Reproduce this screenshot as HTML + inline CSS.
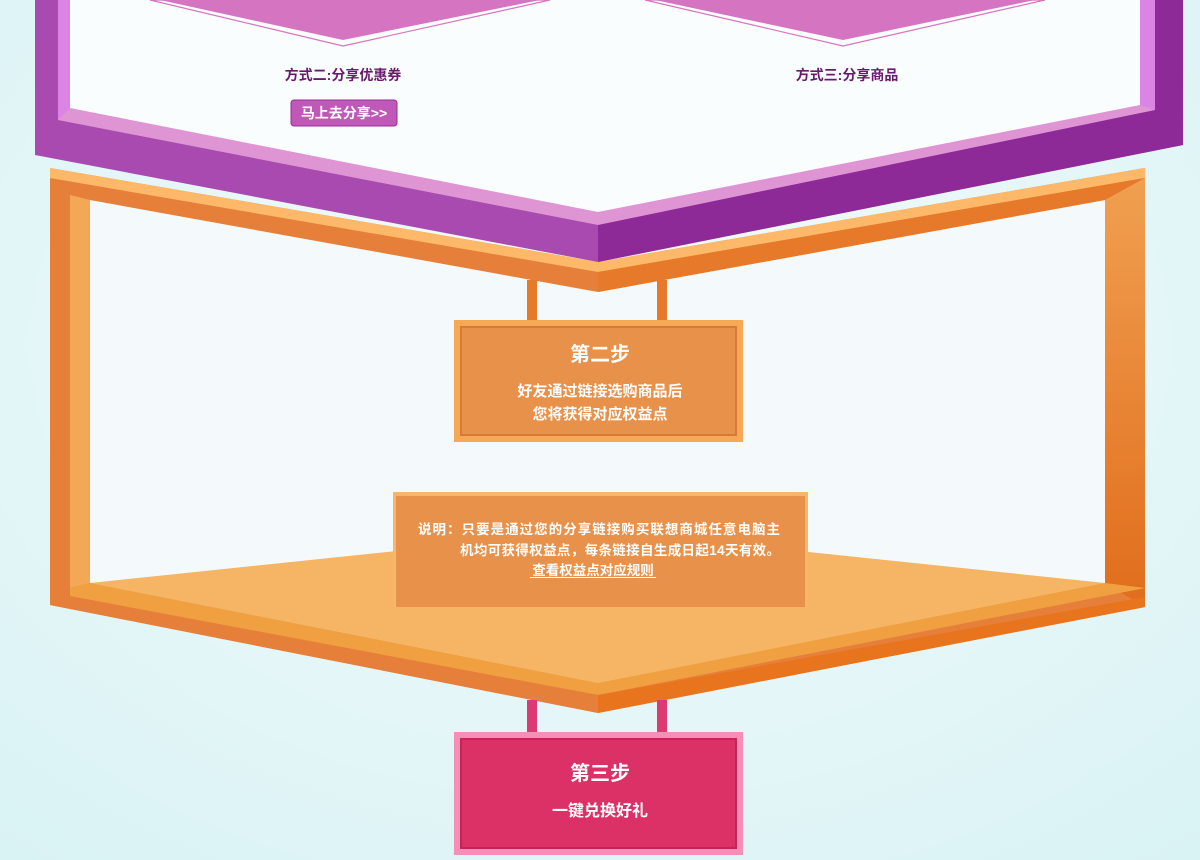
<!DOCTYPE html>
<html><head><meta charset="utf-8">
<style>
html,body{margin:0;padding:0;width:1200px;height:860px;overflow:hidden;background:#e0f5f7;}
svg text{font-family:"Liberation Sans","Noto Sans CJK SC",sans-serif;}
</style></head>
<body>
<svg width="1200" height="860" viewBox="0 0 1200 860">
<defs>
<radialGradient id="bg" cx="0.5" cy="0.4" r="0.8">
<stop offset="0" stop-color="#f4fbfc"/><stop offset="1" stop-color="#d8f2f4"/>
</radialGradient>
<linearGradient id="rside" x1="0" y1="0" x2="0" y2="1">
<stop offset="0" stop-color="#f0a050"/><stop offset="1" stop-color="#e06d1c"/>
</linearGradient>
</defs>
<rect width="1200" height="860" fill="url(#bg)"/>

<g>
<polygon points="50,168 598,262 1145,168 1145,607 598,713 50,605" fill="#e67f3a"/>
<polygon points="90,200 598,292 1105,200 1105,583 598,683 90,583" fill="#f4fafc"/>
<polygon points="50,168 598,262 598,272 50,178" fill="#fdb86a"/>
<polygon points="598,262 1145,168 1145,178 598,272" fill="#fdb86a"/>
<polygon points="598,272 1145,178 1145,200 1105,200 598,292" fill="#e67a2a"/>
<polygon points="1105,200 1145,178 1145,607 1105,583" fill="url(#rside)"/>
<polygon points="70,195 90,200 90,583 70,588" fill="#f2a855"/>
<polygon points="90,583 598,530 1105,583 598,683" fill="#f5b565"/>
<polygon points="70,588 90,583 598,683 598,695 70,596" fill="#f0a040"/>
<polygon points="598,683 1105,583 1145,588 598,695" fill="#f0a040"/>
<polygon points="598,695 1145,597 1145,607 598,713" fill="#e8751e"/>
<polygon points="50,597 598,695 598,713 50,605" fill="#e57f3a"/>
</g>

<g>
<polygon points="35,0 1183,0 1183,145 598,262 35,155" fill="#a84ab0"/>
<polygon points="1155,0 1183,0 1183,145 598,262 598,212 1155,110" fill="#8e2a98"/>
<polygon points="58,0 1155,0 1155,110 598,225 58,120" fill="#df94d4"/>
<polygon points="58,0 70,0 70,108 58,120" fill="#dc84e6"/>
<polygon points="1140,0 1155,0 1155,110 1140,105" fill="#dc84e6"/>
<polygon points="70,0 1140,0 1140,105 598,212 70,108" fill="#fafdfe"/>
<polygon points="150,0 550,0 343,46" fill="none" stroke="#d873c0" stroke-width="1.2"/>
<polygon points="160,0 540,0 343,40" fill="#d574c0"/>
<polygon points="645,0 1045,0 843,46" fill="none" stroke="#d873c0" stroke-width="1.2"/>
<polygon points="655,0 1035,0 843,40" fill="#d574c0"/>
</g>
<text x="343" y="80" text-anchor="middle" font-size="14" font-weight="bold" fill="#6a1a6e">方式二:分享优惠券</text>
<g>
<rect x="291" y="100" width="106" height="26" rx="3" fill="#c058b8" stroke="#96309a"/>
<text x="344" y="118" text-anchor="middle" font-size="14" font-weight="bold" fill="#fff">马上去分享&gt;&gt;</text>
</g>
<text x="847" y="80" text-anchor="middle" font-size="14" font-weight="bold" fill="#6a1a6e">方式三:分享商品</text>

<rect x="527" y="280" width="10" height="42" fill="#e67a2a"/>
<rect x="657" y="280" width="10" height="42" fill="#e67a2a"/>
<g>
<rect x="454" y="320" width="289" height="122" fill="#f5a855"/>
<rect x="461" y="327" width="275" height="108" fill="#e8914a" stroke="#d77a35" stroke-width="2"/>
<text x="600" y="361" text-anchor="middle" font-size="20" font-weight="bold" fill="#fff">第二步</text>
<text x="600" y="396" text-anchor="middle" font-size="15" font-weight="bold" fill="#fff">好友通过链接选购商品后</text>
<text x="600" y="419" text-anchor="middle" font-size="15" font-weight="bold" fill="#fff">您将获得对应权益点</text>
</g>

<g>
<rect x="393" y="492" width="415" height="115" fill="#f7b76a"/>
<rect x="396" y="496" width="409" height="111" fill="#e8914a"/>
<text x="418" y="534" font-size="13.5" font-weight="bold" fill="#fff" textLength="362">说明：只要是通过您的分享链接购买联想商城任意电脑主</text>
<text x="460" y="555" font-size="13.5" font-weight="bold" fill="#fff" textLength="320">机均可获得权益点，每条链接自生成日起14天有效。</text>
</g>
<g>
<text x="593" y="575" text-anchor="middle" font-size="13.5" font-weight="bold" fill="#fff">查看权益点对应规则</text>
<rect x="530" y="577" width="126" height="1" fill="#fff"/>
</g>

<rect x="527" y="700" width="10" height="35" fill="#db3a72"/>
<rect x="657" y="700" width="10" height="35" fill="#db3a72"/>
<g>
<rect x="454" y="732" width="289" height="123" fill="#f58fb8"/>
<rect x="461" y="739" width="275" height="109" fill="#db3166" stroke="#c22556" stroke-width="2"/>
<text x="600" y="780" text-anchor="middle" font-size="20" font-weight="bold" fill="#fff">第三步</text>
<text x="600" y="816" text-anchor="middle" font-size="16" font-weight="bold" fill="#fff">一键兑换好礼</text>
</g>
</svg>
</body></html>
